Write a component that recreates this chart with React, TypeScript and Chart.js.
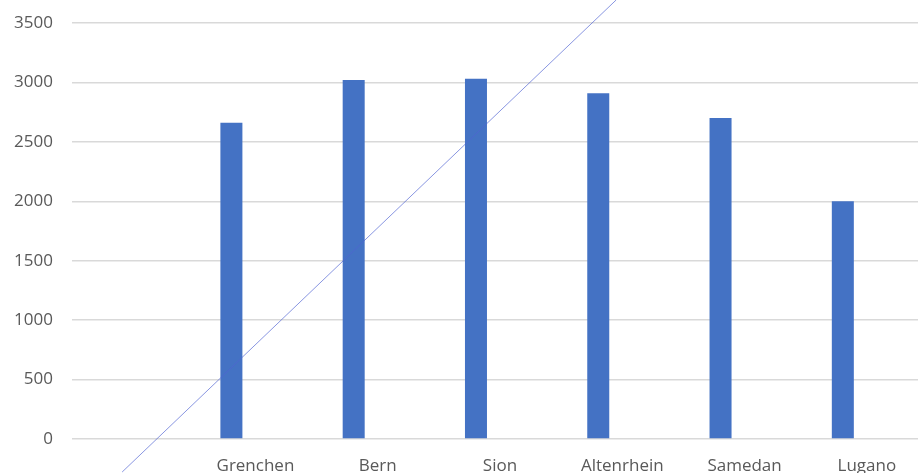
import React, { useEffect, useRef } from "react";
import { Chart, registerables } from "chart.js";

Chart.register(...registerables);

const categories = ["", "Grenchen", "Bern", "Sion", "Altenrhein", "Samedan", "Lugano"];
const seriesValues = [null, 2660, 3020, 3030, 2910, 2700, 2000];
const emptySeries = [null, null, null, null, null, null, null];
const yTicks = [0, 500, 1000, 1500, 2000, 2500, 3000, 3500];
// stray thin diagonal stroke crossing the picture, in (category index, value) space
const strokeX = [-0.09, 3.95];
const strokeY = [-278, 3694];

const strokePlugin = {
  id: "stroke",
  afterDatasetsDraw(chart: any) {
    const xs = chart.scales.x;
    const ys = chart.scales.y;
    const ctx = chart.ctx;
    ctx.save();
    ctx.strokeStyle = "rgba(80,100,210,0.85)";
    ctx.lineWidth = 0.8;
    ctx.beginPath();
    strokeX.forEach((xv, i) => {
      const px = xs.getPixelForValue(xv);
      const py = ys.getPixelForValue(strokeY[i]);
      if (i === 0) ctx.moveTo(px, py);
      else ctx.lineTo(px, py);
    });
    ctx.stroke();
    ctx.restore();
  },
};

export default function App() {
  const ref = useRef<HTMLCanvasElement | null>(null);

  useEffect(() => {
    if (!ref.current) return;
    const font = { family: "'Open Sans', sans-serif", size: 17 };
    const chart = new Chart(ref.current, {
      type: "bar",
      data: {
        labels: categories,
        datasets: [
          { label: "Series 1", data: seriesValues, backgroundColor: "#4472C4", categoryPercentage: 0.786, barPercentage: 0.458 },
          { label: "Series 2", data: emptySeries, backgroundColor: "#ED7D31", categoryPercentage: 0.786, barPercentage: 0.458 },
        ],
      },
      options: {
        responsive: false,
        animation: false,
        layout: { padding: { top: 23, right: 0, left: 0, bottom: 0 } },
        plugins: { legend: { display: false }, tooltip: { enabled: false } },
        scales: {
          x: {
            afterFit: (s: any) => {
              s.height = 34;
            },
            grid: { display: false, drawTicks: false },
            border: { display: false },
            ticks: { color: "#595959", font, padding: 17, maxRotation: 0, autoSkip: false },
          },
          y: {
            min: 0,
            max: 3500,
            afterFit: (s: any) => {
              s.width = 72;
              s.paddingTop = 10;
              s.paddingBottom = 10;
            },
            afterBuildTicks: (s: any) => {
              s.ticks = yTicks.map((v) => ({ value: v }));
            },
            grid: { color: "#d9d9d9", lineWidth: 1.5, drawTicks: false },
            border: { display: false },
            ticks: { color: "#595959", font, padding: 19, callback: (v: any) => String(v) },
          },
        },
      },
      plugins: [strokePlugin],
    });
    return () => chart.destroy();
  }, []);

  return (
    <div style={{ position: "fixed", left: 0, top: 0, width: 918, height: 473, overflow: "hidden", background: "#fff" }}>
      <canvas ref={ref} width={928} height={473} style={{ display: "block" }} />
    </div>
  );
}
